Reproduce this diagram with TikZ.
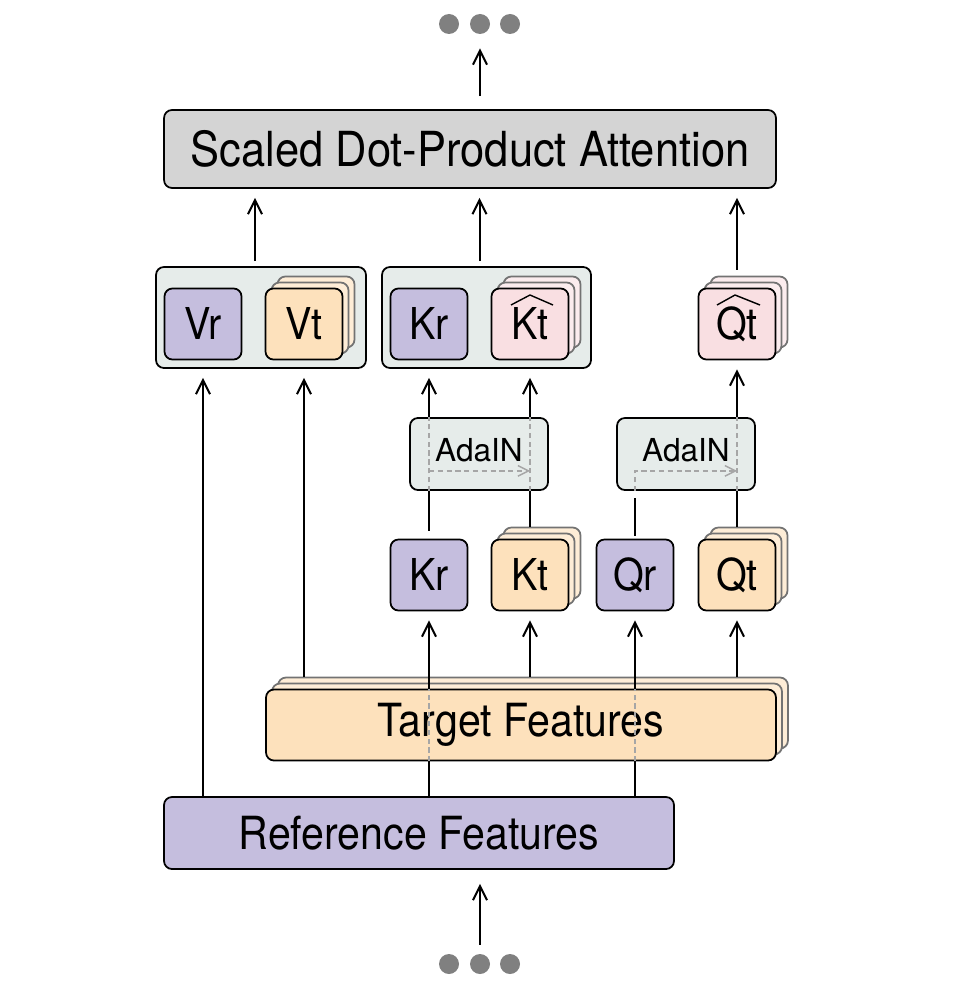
\documentclass[tikz,border=0pt]{standalone}
\usepackage{fontspec}
\setmainfont{TeX Gyre Heros}
\newfontfamily\condfont[FakeStretch=0.9]{TeX Gyre Heros}
\usetikzlibrary{positioning, calc, arrows.meta}

\definecolor{refpurple}{HTML}{C5BEDE}
\definecolor{tgtpeach}{HTML}{FDE1BC}
\definecolor{hatpink}{HTML}{F9DFE2}
\definecolor{boxgrey}{HTML}{E6ECEA}
\definecolor{attgrey}{HTML}{D4D4D4}
\definecolor{dotgrey}{HTML}{808080}

\tikzset{
	tok/.style={draw, line width=1pt, rounded corners=4.5pt, minimum width=1.54cm, minimum height=1.42cm, inner sep=0pt, text height=18pt, text depth=0pt, font=\fontsize{25}{28}\condfont},
	wide/.style={draw, line width=1pt, rounded corners=4.5pt, minimum width=10.2cm, minimum height=1.42cm, font=\fontsize{26}{30}\condfont},
	grp/.style={draw, line width=1pt, rounded corners=4.5pt, fill=boxgrey, minimum height=2.02cm},
	ada/.style={grp, minimum width=2.76cm, minimum height=1.44cm, text height=12.5pt, text depth=4.5pt, font=\fontsize{18}{20}\selectfont},
	line/.style={line width=1.13pt},
	arr/.style={line, -{Straight Barb[length=8pt, width=8pt]}, shorten >=0.18cm},
	ghost/.style={draw=black!35, line width=0.8pt, dash pattern=on 3pt off 2pt},
	hatline/.style={line width=0.8pt, line join=round},
	dot/.style={circle, fill=dotgrey, minimum size=0.4cm, inner sep=0pt},
}

\newcommand{\stacked}[5][tok]{%
	\foreach \off in {12,6}
		\node[#1, fill=#2!60, draw=black!55] at ($(#4)+(\off,-\off)$) {};
	\node[#1, fill=#2] (#3) at (#4) {#5};
}

\begin{document}
\begin{tikzpicture}[x=0.02cm, y=-0.02cm]
	\useasboundingbox (0,0) rectangle (959,1003);
	
	\foreach \i/\xx in {1/449, 2/480, 3/510} {
		\node[dot] (top\i) at (\xx,24) {};
		\node[dot] (bot\i) at (\xx,964) {};
	}
	
	\node[wide, fill=attgrey, minimum width=12.24cm, minimum height=1.56cm, font=\fontsize{27.5}{30}\condfont] (sdpa) at (470,149) {Scaled Dot-Product Attention};
	\node[wide, fill=refpurple, minimum height=1.44cm] (ref) at (419,833) {Reference Features};
	\stacked[wide]{tgtpeach}{tgt}{521,725}{Target Features}
	
	\node[grp, minimum width=4.2cm] (gv) at (261,317.5) {};
	\node[grp, minimum width=4.18cm] (gk) at (486.5,317.5) {};
	
	\node[tok, fill=refpurple] (vr) at (203,324) {Vr};
	\stacked{tgtpeach}{vt}{304,324}{Vt}
	\node[tok, fill=refpurple] (krtop) at (429,324) {Kr};
	\stacked{hatpink}{kthat}{530,324}{Kt}
	\stacked{hatpink}{qthat}{737,324}{Qt}
	\draw[hatline] ($(kthat)+(-19,-19)$) -- ($(kthat)+(0,-29)$) -- ($(kthat)+(23,-19)$);
	\draw[hatline] ($(qthat)+(-20,-19)$) -- ($(qthat)+(-2,-29)$) -- ($(qthat)+(23,-19)$);
	
	\node[ada] (ada1) at (479,454) {AdaIN};
	\node[ada] (ada2) at (686,454) {AdaIN};
	
	\node[tok, fill=refpurple] (kr) at (429,575) {Kr};
	\stacked{tgtpeach}{kt}{530,575}{Kt}
	\node[tok, fill=refpurple] (qr) at (635,575) {Qr};
	\stacked{tgtpeach}{qt}{737,575}{Qt}
	
	\coordinate (vmid) at ($(vr)!0.5!(vt)+(1.5,0)$);
	\coordinate (kmid) at ($(krtop)!0.5!(kthat)$);
	
	\draw[arr, shorten <=0.26cm, shorten >=0.28cm] (top2 |- sdpa.north) -- (top2.south);
	\draw[arr, shorten <=0.1cm] (vmid |- gv.north) -- (vmid |- sdpa.south);
	\draw[arr, shorten <=0.1cm] (kmid |- gk.north) -- (kmid |- sdpa.south);
	\draw[arr] ($(qthat.north)+(0,-18)$) -- (qthat |- sdpa.south);
	
	\draw[arr] (vr |- ref.north) -- (vr |- gv.south);
	\draw[arr] ($(vt |- tgt.north)+(0,-12)$) -- (vt |- gv.south);
	
	\draw[line] (kr |- ref.north) -- (kr |- tgt.south);
	\draw[line] (qr |- ref.north) -- (qr |- tgt.south);
	\draw[ghost] (kr |- tgt.south) -- (kr |- tgt.north);
	\draw[ghost] (qr |- tgt.south) -- (qr |- tgt.north);
	\draw[arr] (kr |- tgt.north) -- (kr.south);
	\draw[arr] (qr |- tgt.north) -- (qr.south);
	\draw[arr] ($(kt |- tgt.north)+(0,-12)$) -- (kt.south);
	\draw[arr] ($(qt |- tgt.north)+(0,-12)$) -- (qt.south);
	
	\draw[line, shorten <=0.16cm] (kr.north) -- (kr |- ada1.south);
	\draw[line] ($(kt.north)+(0,-12)$) -- (kt |- ada1.south);
	\draw[line, shorten <=0.06cm, shorten >=0.14cm] (qr.north) -- (qr |- ada2.south);
	\draw[line] ($(qt.north)+(0,-12)$) -- (qt |- ada2.south);
	\draw[arr] (kr |- ada1.north) -- (kr |- gk.south);
	\draw[arr] (kt |- ada1.north) -- (kt |- gk.south);
	\draw[arr] (qt |- ada2.north) -- (qthat.south);
	
	\draw[ghost] (kr |- ada1.south) -- (kr |- ada1.north);
	\draw[ghost] (kt |- ada1.south) -- (kt |- ada1.north);
	\draw[ghost] (qt |- ada2.south) -- (qt |- ada2.north);
	\draw[ghost, -{Straight Barb[length=6pt, width=6pt]}] ($(kr |- ada1.south)+(0,-20)$) -- ($(kt |- ada1.south)+(0,-20)$);
	\draw[ghost, -{Straight Barb[length=6pt, width=6pt]}] (qr |- ada2.south) |- ($(qt |- ada2.south)+(0,-20)$);
	
	\draw[arr, shorten <=0.18cm, shorten >=0.28cm] (bot2.north) -- (bot2 |- ref.south);
\end{tikzpicture}
\end{document}
